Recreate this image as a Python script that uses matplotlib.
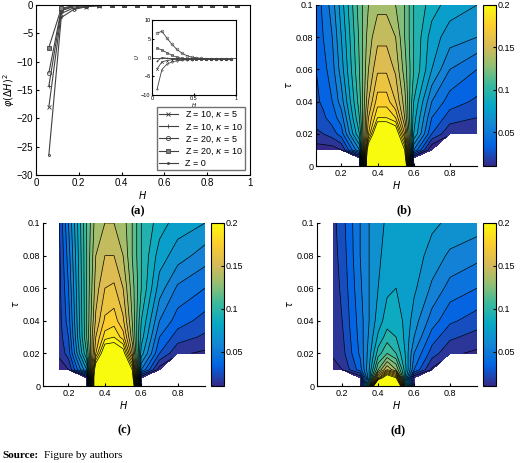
import numpy as np
import matplotlib
matplotlib.use('Agg')
import matplotlib.pyplot as plt
from matplotlib.colors import LinearSegmentedColormap

plt.rcParams['font.family'] = ['Liberation Sans', 'DejaVu Sans']
plt.rcParams['font.size'] = 7

# panel (a)
H_a = [0.06, 0.118, 0.176, 0.235, 0.294, 0.353, 0.412, 0.471, 0.529, 0.588,
       0.647, 0.706, 0.765, 0.824, 0.882, 0.94]
phi_z10_k5 = [-18, -1.5, -0.5, -0.3, -0.1, 0, 0, 0, 0, 0, 0, 0, 0, 0, 0, 0]
phi_z10_k10 = [-14.3, -1.0, -0.3, -0.1, 0, 0, 0, 0, 0, 0, 0, 0, 0, 0, 0, 0]
phi_z20_k5 = [-12, -0.8, -0.2, -0.1, 0, 0, 0, 0, 0, 0, 0, 0, 0, 0, 0, 0]
phi_z20_k10 = [-7.5, -0.6, -0.1, 0, 0, 0, 0, 0, 0, 0, 0, 0, 0, 0, 0, 0]
phi_z0 = [-26.5, -2.2, -0.8, -0.3, -0.1, 0, 0, 0, 0, 0, 0, 0, 0, 0, 0, 0]

U_z10_k5 = [-3, -1.2, -0.8, -0.6, -0.5, -0.5, -0.5, -0.5, -0.5, -0.5, -0.5, -0.5, -0.5, -0.5, -0.5, -0.5]
U_z10_k10 = [-1, 0, -0.2, -0.3, -0.4, -0.4, -0.5, -0.5, -0.5, -0.5, -0.5, -0.5, -0.5, -0.5, -0.5, -0.5]
U_z20_k5 = [6.5, 7, 5.2, 3.6, 2.2, 1.2, 0.5, 0.1, -0.1, -0.2, -0.3, -0.4, -0.4, -0.4, -0.5, -0.5]
U_z20_k10 = [2.5, 2, 1.3, 0.6, 0.1, -0.2, -0.3, -0.4, -0.4, -0.5, -0.5, -0.5, -0.5, -0.5, -0.5, -0.5]
U_z0 = [-8.5, -3.2, -1.8, -1.2, -0.9, -0.7, -0.6, -0.6, -0.5, -0.5, -0.5, -0.5, -0.5, -0.5, -0.5, -0.5]

# contour panels
H_c = [0.06, 0.1, 0.15, 0.2, 0.3, 0.35, 0.4, 0.45, 0.5, 0.55, 0.6, 0.7, 0.8, 0.95]
tau_c = [0, 0.005, 0.01, 0.02, 0.03, 0.04, 0.06, 0.08, 0.1]
nan = np.nan
field_b = [
    [nan, nan, nan, nan, 0.0, 0.25, 0.3, 0.3, 0.3, 0.25, 0.0, nan, nan, nan],
    [nan, nan, nan, nan, 0.0, 0.25, 0.3, 0.3, 0.3, 0.22, 0.0, nan, nan, nan],
    [0.005, 0.005, 0.005, 0.01, 0.06, 0.22, 0.3, 0.3, 0.28, 0.2, 0.05, 0.0, nan, nan],
    [0.018, 0.02, 0.025, 0.035, 0.09, 0.17, 0.23, 0.23, 0.22, 0.16, 0.08, 0.03, 0.012, 0.01],
    [0.024, 0.028, 0.035, 0.045, 0.1, 0.16, 0.19, 0.19, 0.18, 0.14, 0.085, 0.04, 0.025, 0.02],
    [0.028, 0.032, 0.04, 0.055, 0.105, 0.15, 0.175, 0.175, 0.16, 0.135, 0.09, 0.05, 0.035, 0.028],
    [0.03, 0.036, 0.046, 0.065, 0.11, 0.14, 0.158, 0.158, 0.148, 0.125, 0.1, 0.07, 0.05, 0.04],
    [0.032, 0.04, 0.05, 0.07, 0.112, 0.135, 0.147, 0.147, 0.14, 0.12, 0.1, 0.075, 0.065, 0.06],
    [0.035, 0.042, 0.055, 0.075, 0.115, 0.13, 0.137, 0.137, 0.13, 0.12, 0.1, 0.085, 0.075, 0.07],
]
field_c = [
    [nan, nan, nan, nan, 0.0, 0.25, 0.3, 0.3, 0.3, 0.25, 0.0, nan, nan, nan],
    [nan, nan, nan, nan, 0.0, 0.25, 0.3, 0.3, 0.3, 0.22, 0.0, nan, nan, nan],
    [nan, nan, 0.005, 0.01, 0.07, 0.22, 0.3, 0.3, 0.28, 0.2, 0.05, 0.005, nan, nan],
    [nan, nan, 0.012, 0.025, 0.1, 0.17, 0.22, 0.22, 0.21, 0.15, 0.075, 0.03, 0.012, 0.008],
    [nan, nan, 0.015, 0.03, 0.11, 0.16, 0.185, 0.19, 0.175, 0.135, 0.085, 0.04, 0.025, 0.018],
    [nan, nan, 0.016, 0.035, 0.11, 0.152, 0.172, 0.175, 0.162, 0.13, 0.09, 0.05, 0.035, 0.026],
    [nan, nan, 0.017, 0.04, 0.11, 0.145, 0.16, 0.162, 0.15, 0.125, 0.1, 0.065, 0.048, 0.04],
    [nan, nan, 0.018, 0.045, 0.11, 0.14, 0.15, 0.15, 0.14, 0.12, 0.1, 0.075, 0.065, 0.055],
    [nan, nan, 0.02, 0.05, 0.11, 0.135, 0.14, 0.14, 0.135, 0.12, 0.1, 0.085, 0.075, 0.07],
]
field_d = [
    [nan, nan, nan, nan, 0.0, 0.1, 0.3, 0.3, 0.3, 0.1, 0.0, nan, nan, nan],
    [nan, nan, nan, nan, 0.0, 0.07, 0.17, 0.23, 0.2, 0.08, 0.0, nan, nan, nan],
    [nan, nan, 0.005, 0.01, 0.035, 0.07, 0.12, 0.15, 0.13, 0.085, 0.04, 0.008, nan, nan],
    [nan, nan, 0.012, 0.016, 0.042, 0.065, 0.095, 0.11, 0.1, 0.08, 0.05, 0.025, 0.012, 0.008],
    [nan, nan, 0.013, 0.018, 0.044, 0.062, 0.082, 0.095, 0.09, 0.078, 0.06, 0.035, 0.022, 0.016],
    [nan, nan, 0.014, 0.02, 0.045, 0.06, 0.075, 0.085, 0.085, 0.078, 0.065, 0.045, 0.032, 0.025],
    [nan, nan, 0.015, 0.022, 0.048, 0.06, 0.07, 0.078, 0.08, 0.077, 0.072, 0.058, 0.046, 0.04],
    [nan, nan, 0.016, 0.024, 0.05, 0.06, 0.068, 0.074, 0.077, 0.077, 0.075, 0.066, 0.058, 0.053],
    [nan, nan, 0.017, 0.026, 0.05, 0.06, 0.066, 0.072, 0.075, 0.076, 0.076, 0.072, 0.068, 0.065],
]

parula = LinearSegmentedColormap.from_list('parula', [
    '#352a87', '#0363e1', '#1485d4', '#06a7c6', '#38b99e', '#92bf73',
    '#d9ba56', '#fcce2e', '#f9fb0e'])

fig = plt.figure(figsize=(5.2, 4.63), dpi=100)
W, Hh = 520, 463


def ax_px(x0, y0, x1, y1):
    return fig.add_axes([x0 / W, 1 - y1 / Hh, (x1 - x0) / W, (y1 - y0) / Hh])


# (a)
ax = ax_px(36, 5, 250, 175)
styles = [('x', phi_z10_k5, U_z10_k5, 'Z = 10, $\\kappa$ = 5'),
          ('+', phi_z10_k10, U_z10_k10, 'Z = 10, $\\kappa$ = 10'),
          ('o', phi_z20_k5, U_z20_k5, 'Z = 20, $\\kappa$ = 5'),
          ('s', phi_z20_k10, U_z20_k10, 'Z = 20, $\\kappa$ = 10'),
          ('.', phi_z0, U_z0, 'Z = 0')]
for m, p, u, lab in styles:
    fc = '0.5' if m == 's' else 'none'
    ax.plot(H_a, p, color='0.25', lw=0.8, marker=m, ms=3, mfc=fc, mew=0.6, label=lab)
ax.set_xlim(0, 1)
ax.set_ylim(-30, 0)
ax.set_xticks([0, 0.2, 0.4, 0.6, 0.8, 1])
ax.set_xticklabels(['0', '0.2', '0.4', '0.6', '0.8', '1'])
ax.set_xlabel('$H$', labelpad=1)
ax.set_ylabel('$\\varphi(\\Delta H)^2$', labelpad=0)
ax.tick_params(labelsize=7, direction='in', length=2, pad=2)
ax.legend(loc='lower right', fontsize=6.5, handlelength=2, borderpad=0.3,
          labelspacing=0.2, fancybox=False, edgecolor='0.3')
ins = ax_px(152, 20, 236, 95)
for m, p, u, lab in styles:
    fc = '0.5' if m == 's' else 'none'
    ins.plot(H_a, u, color='0.25', lw=0.6, marker=m, ms=2, mfc=fc, mew=0.4)
ins.axhline(0, color='0.25', lw=0.6)
ins.set_xlim(0, 1)
ins.set_ylim(-10, 10)
ins.set_xticks([0, 0.5, 1])
ins.set_xticklabels(['0', '0.5', '1'])
ins.set_yticks([-10, -5, 0, 5, 10])
ins.tick_params(labelsize=4, direction='in', length=1.5, pad=1)
ins.set_xlabel('$H$', fontsize=4, labelpad=0)
ins.set_ylabel('$U$', fontsize=4, labelpad=0)

levels = np.linspace(0.01, 0.2, 20)
HH, TT = np.meshgrid(H_c, tau_c)


def contour_panel(rect, cbrect, field, letter, lpos):
    axc = ax_px(*rect)
    Z = np.array(field)
    axc.contourf(HH, TT, Z, levels=levels, cmap=parula, extend='both')
    axc.contour(HH, TT, Z, levels=levels, colors='k', linewidths=0.5)
    axc.set_xlim(0.06, 0.95)
    axc.set_ylim(0, 0.1)
    axc.set_xticks([0.2, 0.4, 0.6, 0.8])
    axc.set_yticks([0, 0.02, 0.04, 0.06, 0.08, 0.1])
    axc.set_yticklabels(['0', '0.02', '0.04', '0.06', '0.08', '0.1'])
    axc.tick_params(labelsize=6.5, direction='in', length=2, pad=2)
    for s in ['top', 'right']:
        axc.spines[s].set_visible(False)
    axc.set_xlabel('$H$', labelpad=1)
    axc.set_ylabel('$\\tau$', labelpad=1)
    cax = ax_px(*cbrect)
    sm = plt.cm.ScalarMappable(cmap=parula, norm=plt.Normalize(0.01, 0.2))
    cb = fig.colorbar(sm, cax=cax, ticks=[0.05, 0.1, 0.15, 0.2])
    cb.ax.set_yticklabels(['0.05', '0.1', '0.15', '0.2'])
    cb.ax.tick_params(labelsize=6.5, direction='in', length=2, pad=1)
    fig.text(lpos[0] / W, 1 - lpos[1] / Hh, letter, ha='center', va='center',
             fontsize=9, fontweight='bold', family='Liberation Serif')


fig.text(138 / W, 1 - 211 / Hh, '(a)', ha='center', va='center',
         fontsize=9, fontweight='bold', family='Liberation Serif')
contour_panel((316, 5, 477, 166), (483, 5, 496, 166), field_b, '(b)', (404, 210))
contour_panel((43, 223, 205, 386), (211, 223, 224, 386), field_c, '(c)', (124, 430))
contour_panel((317, 223, 477, 386), (483, 223, 496, 386), field_d, '(d)', (398, 430))

fig.text(2 / W, 1 - 455 / Hh, 'Source:', fontsize=8, fontweight='bold',
         family='Liberation Serif', va='center')
fig.text(44 / W, 1 - 455 / Hh, 'Figure by authors', fontsize=8,
         family='Liberation Serif', va='center')

fig.savefig('out.png', dpi=100)
